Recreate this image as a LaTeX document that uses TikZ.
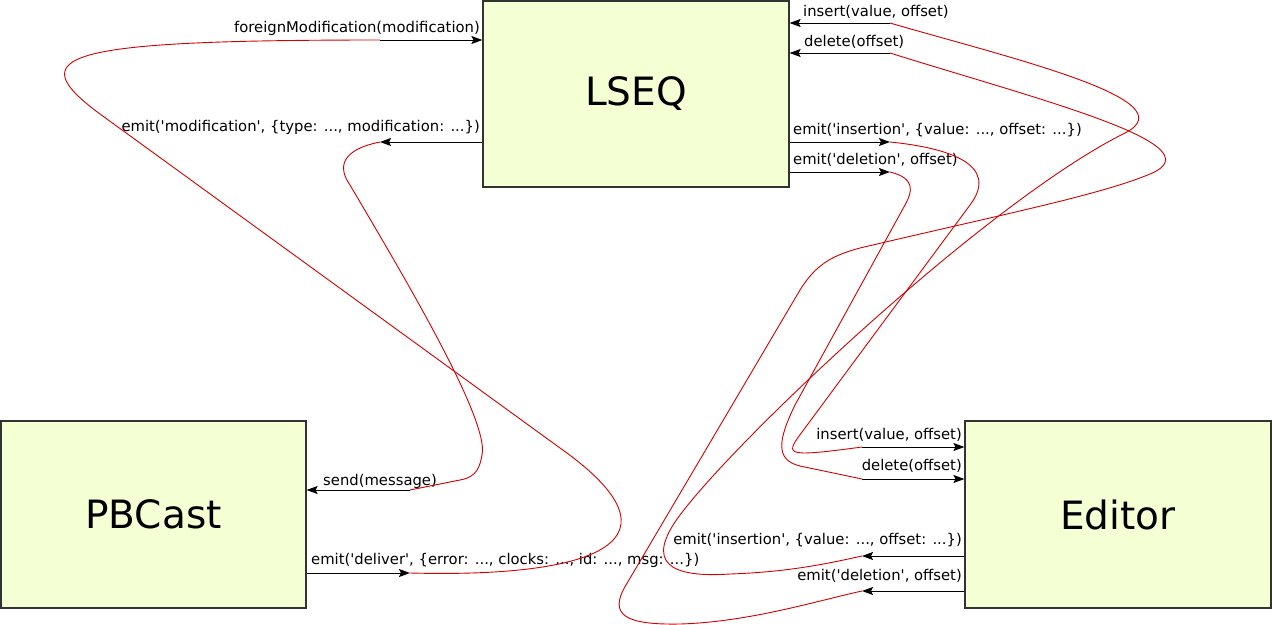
\documentclass[tikz,border=0pt]{standalone}
\usepackage{fontspec}
\setmainfont{DejaVu Sans}
\usetikzlibrary{arrows.meta,positioning,calc}
\definecolor{boxyellow}{RGB}{245,255,212}
\definecolor{linkred}{RGB}{210,0,0}
\newcommand{\sq}{\textquotesingle}

\begin{document}
\begin{tikzpicture}[x=1pt, y=-1pt,
  every node/.style={font=\fontsize{14.8}{18}\selectfont, inner sep=0pt},
  box/.style={draw=black!80, line width=1.2pt, fill=boxyellow, minimum width=306pt, minimum height=187pt, font=\fontsize{39}{46}\selectfont},
  arr/.style={-{Stealth[length=11pt,width=8pt,inset=2pt]}, line width=0.9pt},
  wire/.style={linkred, line width=0.9pt}]
  \useasboundingbox (0,0) rectangle (1272,624);

  \node[box, minimum height=186pt] (lseq) at (636,94) {LSEQ};
  \node[box, minimum width=305pt] (pbcast) at (153.5,514.5) {PBCast};
  \node[box] (editor) at (1118,514.5) {Editor};

  \coordinate (fmod) at (380,40);
  \coordinate (modif) at (380,142);
  \coordinate (insin) at (890,23);
  \coordinate (delin) at (890,53);
  \coordinate (insout) at (890,142);
  \coordinate (delout) at (890,172);
  \coordinate (send) at (410,490);
  \coordinate (deliver) at (410,573);
  \coordinate (edins) at (862,447);
  \coordinate (eddel) at (862,479);
  \coordinate (edinsout) at (862,556);
  \coordinate (eddelout) at (862,591);

  \draw[arr] (fmod) -- (fmod -| lseq.west);
  \draw[arr] (modif -| lseq.west) -- (modif);
  \draw[arr] (insin) -- (insin -| lseq.east);
  \draw[arr] (delin) -- (delin -| lseq.east);
  \draw[arr] (insout -| lseq.east) -- (insout);
  \draw[arr] (delout -| lseq.east) -- (delout);
  \draw[arr] (send) -- (send -| pbcast.east);
  \draw[arr] (deliver -| pbcast.east) -- (deliver);
  \draw[arr] (edins) -- (edins -| editor.west);
  \draw[arr] (eddel) -- (eddel -| editor.west);
  \draw[arr] (edinsout -| editor.west) -- (edinsout);
  \draw[arr] (eddelout -| editor.west) -- (eddelout);

  \node[anchor=base east] (fmodlbl) at (480,32) {foreignModification(modification)};
  \node[anchor=base east] (modiflbl) at (480,131) {emit(\sq modification\sq, \{type: ..., modification: ...\})};
  \node[anchor=base west] (insinlbl) at (803,16) {insert(value, offset)};
  \node[anchor=base west] (delinlbl) at (804,46) {delete(offset)};
  \node[anchor=base west] (insoutlbl) at (793,134) {emit(\sq insertion\sq, \{value: ..., offset: ...\})};
  \node[anchor=base west] (deloutlbl) at (793,164) {emit(\sq deletion\sq, offset)};
  \node[anchor=base west] (sendlbl) at (323,485) {send(message)};
  \node[anchor=base west] (deliverlbl) at (311,564) {emit(\sq deliver\sq, \{error: ..., clocks: ..., id: ..., msg: ...\})};
  \node[anchor=base east] (edinslbl) at (962,439) {insert(value, offset)};
  \node[anchor=base east] (eddellbl) at (962,470) {delete(offset)};
  \node[anchor=base east] (edinsoutlbl) at (962,544) {emit(\sq insertion\sq, \{value: ..., offset: ...\})};
  \node[anchor=base east] (eddeloutlbl) at (962,580) {emit(\sq deletion\sq, offset)};

  \draw[wire] (deliver) .. controls (600,578) and (690,540) .. (560,448) -- (100,114) .. controls (20,55) and (60,40) .. (fmod);
  \draw[wire] (modif) .. controls (340,150) and (338,168) .. (350,185) .. controls (400,270) and (490,420) .. (482,455) .. controls (480,465) and (478,477) .. (460,480) -- (send);
  \draw[wire] (insin) .. controls (1010,58) and (1190,100) .. (1125,133) .. controls (990,200) and (740,435) .. (680,515) .. controls (644,563) and (670,578) .. (730,574) .. controls (790,572) and (830,563) .. (edinsout);
  \draw[wire] (delin) .. controls (1040,100) and (1220,145) .. (1150,174) .. controls (1100,195) and (1000,215) .. (860,248) .. controls (830,256) and (815,266) .. (800,290) -- (626,585) .. controls (608,615) and (625,625) .. (680,624) .. controls (750,622) and (820,600) .. (eddelout);
  \draw[wire] (insout) .. controls (950,148) and (1000,165) .. (970,205) -- (805,428) .. controls (785,455) and (780,458) .. (edins);
  \draw[wire] (delout) .. controls (915,178) and (913,191) .. (905,205) -- (795,405) .. controls (778,440) and (775,460) .. (800,466) -- (eddel);
\end{tikzpicture}
\end{document}
